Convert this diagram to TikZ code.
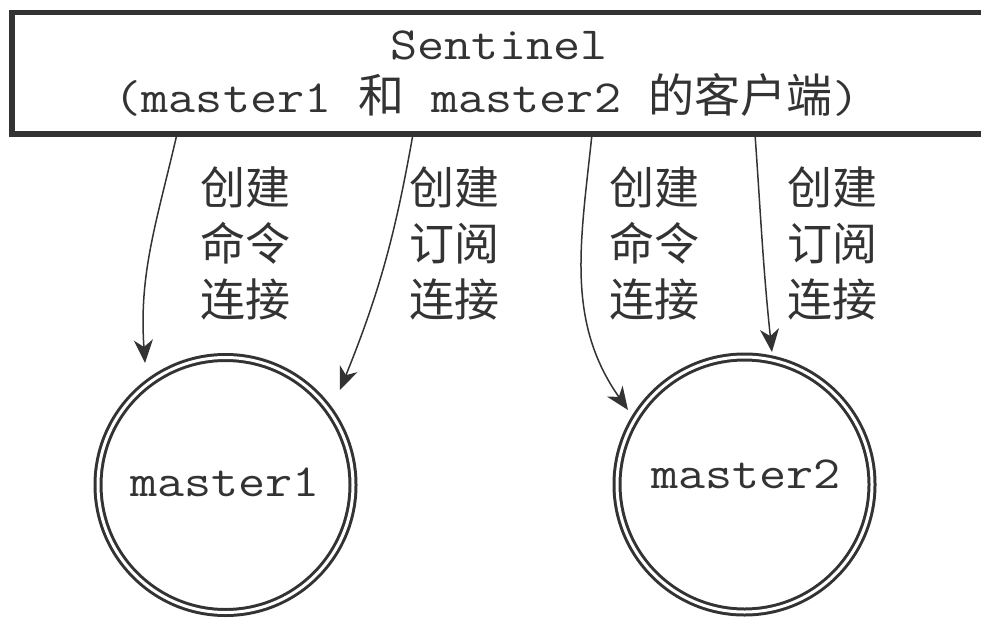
\documentclass[tikz,border=0pt]{standalone}
\usepackage{fontspec}
\newfontfamily\mono[FakeStretch=1.143]{Latin Modern Mono}
\newfontfamily\cjk{Noto Sans CJK SC}
\usetikzlibrary{arrows.meta,calc}
\definecolor{ink}{HTML}{333333}
\begin{document}
\begin{tikzpicture}[x=1pt,y=-1pt,
  every node/.style={inner sep=0pt,outer sep=0pt,text=ink},
  monotext/.style={font=\mono\fontsize{46}{56}\selectfont},
  cjklabel/.style={font=\cjk\fontsize{45}{56}\selectfont,align=left},
  masterring/.style={circle,draw=ink,line width=3pt,double=white,double distance=3pt,minimum size=255pt},
  conn/.style={draw=ink,line width=1.5pt,-{Stealth[length=23pt,width=19pt,inset=7pt]}}]
\useasboundingbox (0,0) rectangle (981,620);
\clip (0,0) rectangle (981,620);
\fill[white] (0,0) rectangle (981,620);
% Sentinel box
\node[draw=ink,line width=5.5pt,minimum width=988pt,minimum height=121.5pt,anchor=north west] (sent) at (12,12.5) {};
\node[monotext,anchor=base] (title1) at (499,60) {Sentinel};
\node[monotext,anchor=base] (title2) at (487,113) {(master1 {\cjk 和} master2 {\cjk 的客户端})};
% masters
\node[masterring] (m1) at (225.5,485) {};
\node[monotext,anchor=base] (t1) at (225,496) {master1};
\node[masterring] (m2) at (744.5,484.5) {};
\node[monotext,anchor=base] (t2) at (746,488) {master2};
% labels
\node[cjklabel] (l1) at (245,243) {创建\\命令\\连接};
\node[cjklabel] (l2) at (454,243) {创建\\订阅\\连接};
\node[cjklabel] (l3) at (654,243) {创建\\命令\\连接};
\node[cjklabel] (l4) at (832,243) {创建\\订阅\\连接};
% connectors
\draw[conn] ([xshift=165pt]sent.south west) to[out=-103,in=94] ($(m1.center)+(123.4:146.2pt)$);
\draw[conn] ([xshift=401pt]sent.south west) to[out=-100,in=68] ($(m1.center)+(39.7:148.8pt)$);
\draw[conn] ([xshift=580pt]sent.south west) to[out=-96,in=125] ($(m2.center)+(147.4:138.3pt)$);
\draw[conn] ([xshift=743pt]sent.south west) to[out=-86,in=96] ($(m2.center)+(78.3:135.3pt)$);
\end{tikzpicture}
\end{document}
